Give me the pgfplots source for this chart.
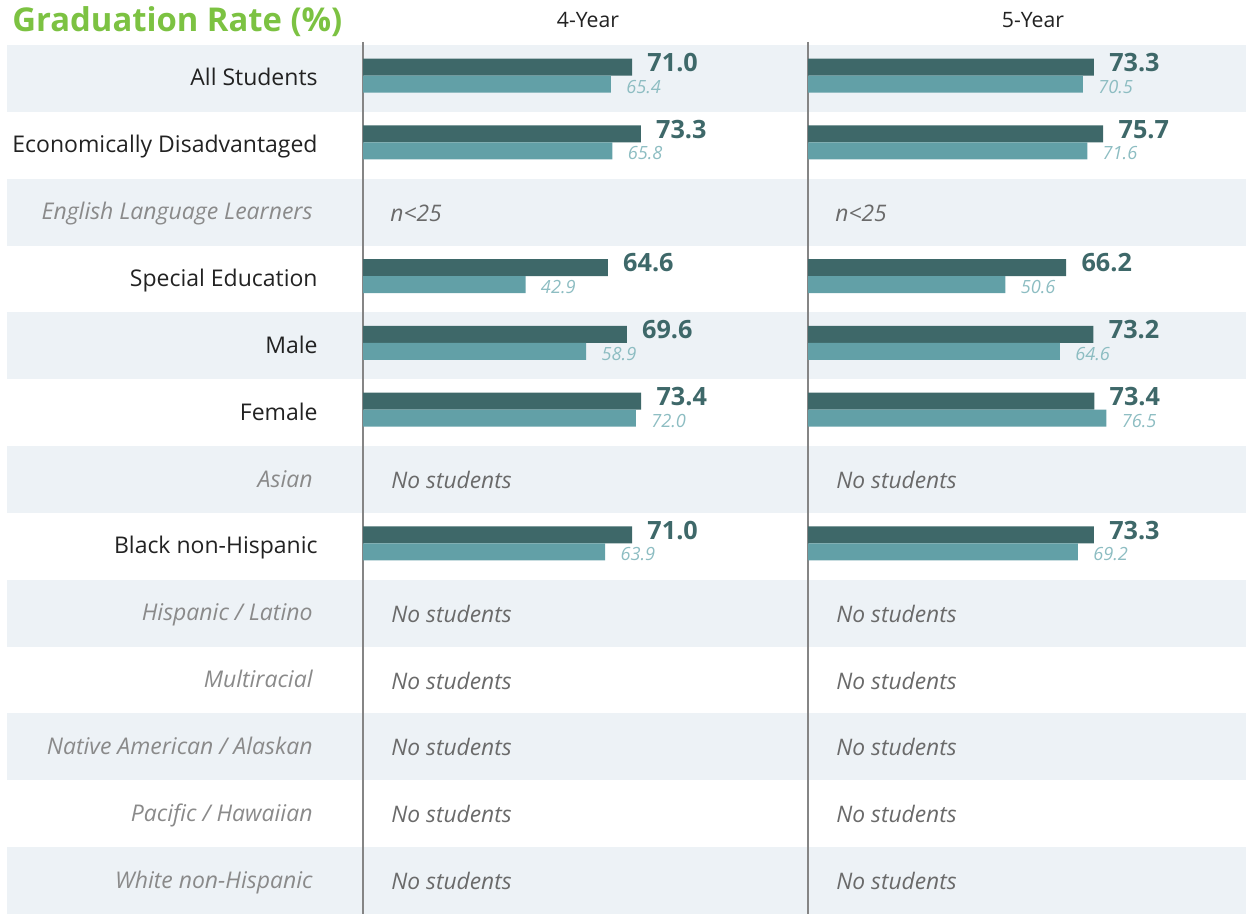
\documentclass[border=0pt]{standalone}
\usepackage{pgfplots}
\pgfplotsset{compat=1.18}
\usepackage{fontspec}
\setmainfont{Open Sans}
\definecolor{darkbar}{HTML}{3E6869}
\definecolor{lightbar}{HTML}{62A0A7}
\definecolor{lightlabel}{HTML}{8DBDC2}
\definecolor{stripe}{HTML}{EDF2F6}
\definecolor{grayital}{HTML}{8A8A8A}
\definecolor{nostud}{HTML}{6A6A6A}
\definecolor{titlegreen}{HTML}{7CC242}
\definecolor{txt}{HTML}{222222}
\definecolor{vline}{HTML}{858585}
\newcommand{\rowfont}{\fontsize{11.5}{14}\selectfont}
\newcommand{\nsfont}{\fontsize{11.4}{14}\selectfont\itshape}
\pgfplotsset{
  panel/.style={scale only axis, anchor=south west, height=434.5pt,
    xmin=0, xmax=100, ymin=0.5, ymax=13.5, hide axis, clip=false},
  darkbars/.style={xbar, bar width=8.5pt, bar shift=5.7pt, fill=darkbar, draw=none,
    nodes near coords, point meta=explicit symbolic,
    nodes near coords style={anchor=base west, inner sep=0pt, xshift=7.5pt, yshift=3.6pt,
      font=\fontsize{12.6}{14}\selectfont\bfseries, text=darkbar}},
  lightbars/.style={xbar, bar width=8.5pt, bar shift=-2.8pt, fill=lightbar, draw=none,
    nodes near coords, point meta=explicit symbolic,
    nodes near coords style={anchor=base west, inner sep=0pt, xshift=7.5pt, yshift=-7.3pt,
      font=\fontsize{9.1}{11}\selectfont\itshape, text=lightlabel}},
}
\begin{document}
\begin{tikzpicture}
\path (0pt,0pt) rectangle (623pt,457pt);
\begin{axis}[at={(0pt,0pt)}, anchor=south west, scale only axis, width=623pt, height=457pt,
  xmin=0, xmax=1246, ymin=0, ymax=914, y dir=reverse, hide axis, clip=false]
% stripes
\fill[stripe] (axis cs:7,45) rectangle (axis cs:1246,111.85);
\fill[stripe] (axis cs:7,178.69) rectangle (axis cs:1246,245.54);
\fill[stripe] (axis cs:7,312.38) rectangle (axis cs:1246,379.23);
\fill[stripe] (axis cs:7,446.08) rectangle (axis cs:1246,512.92);
\fill[stripe] (axis cs:7,579.77) rectangle (axis cs:1246,646.62);
\fill[stripe] (axis cs:7,713.46) rectangle (axis cs:1246,780.31);
\fill[stripe] (axis cs:7,847.15) rectangle (axis cs:1246,914);
% vertical lines
\draw[vline, line width=1pt] (axis cs:363,42) -- (axis cs:363,914);
\draw[vline, line width=1pt] (axis cs:808,42) -- (axis cs:808,914);
% title and headers
\node[anchor=base west, inner sep=0pt, text=titlegreen, font=\fontsize{16.4}{18}\selectfont\bfseries] at (axis cs:12,32) {Graduation Rate (\%)};
\node[anchor=base, inner sep=0pt, text=txt, font=\fontsize{10.6}{13}\selectfont] at (axis cs:588,28) {4-Year};
\node[anchor=base, inner sep=0pt, text=txt, font=\fontsize{10.6}{13}\selectfont] at (axis cs:1033,28) {5-Year};
% row labels
\node[anchor=base east, inner sep=0pt, text=txt, font=\rowfont] at (axis cs:318,86.0) {All Students};
\node[anchor=base east, inner sep=0pt, text=txt, font=\rowfont] at (axis cs:318,152.9) {Economically Disadvantaged};
\node[anchor=base east, inner sep=0pt, text=grayital, font=\rowfont\itshape] at (axis cs:313,219.7) {English Language Learners};
\node[anchor=base east, inner sep=0pt, text=txt, font=\rowfont] at (axis cs:318,286.6) {Special Education};
\node[anchor=base east, inner sep=0pt, text=txt, font=\rowfont] at (axis cs:318,353.4) {Male};
\node[anchor=base east, inner sep=0pt, text=txt, font=\rowfont] at (axis cs:318,420.3) {Female};
\node[anchor=base east, inner sep=0pt, text=grayital, font=\rowfont\itshape] at (axis cs:313,487.1) {Asian};
\node[anchor=base east, inner sep=0pt, text=txt, font=\rowfont] at (axis cs:318,553.9) {Black non-Hispanic};
\node[anchor=base east, inner sep=0pt, text=grayital, font=\rowfont\itshape] at (axis cs:313,620.8) {Hispanic / Latino};
\node[anchor=base east, inner sep=0pt, text=grayital, font=\rowfont\itshape] at (axis cs:313,687.6) {Multiracial};
\node[anchor=base east, inner sep=0pt, text=grayital, font=\rowfont\itshape] at (axis cs:313,754.5) {Native American / Alaskan};
\node[anchor=base east, inner sep=0pt, text=grayital, font=\rowfont\itshape] at (axis cs:313,821.3) {Pacific / Hawaiian};
\node[anchor=base east, inner sep=0pt, text=grayital, font=\rowfont\itshape] at (axis cs:313,888.2) {White non-Hispanic};
% no-data notes
\node[anchor=base west, inner sep=0pt, text=nostud, font=\nsfont] at (axis cs:390,221.1) {n<25};
\node[anchor=base west, inner sep=0pt, text=nostud, font=\nsfont] at (axis cs:835,221.1) {n<25};
\node[anchor=base west, inner sep=0pt, text=nostud, font=\nsfont] at (axis cs:391,488.5) {No students};
\node[anchor=base west, inner sep=0pt, text=nostud, font=\nsfont] at (axis cs:836,488.5) {No students};
\node[anchor=base west, inner sep=0pt, text=nostud, font=\nsfont] at (axis cs:391,622.2) {No students};
\node[anchor=base west, inner sep=0pt, text=nostud, font=\nsfont] at (axis cs:836,622.2) {No students};
\node[anchor=base west, inner sep=0pt, text=nostud, font=\nsfont] at (axis cs:391,689.0) {No students};
\node[anchor=base west, inner sep=0pt, text=nostud, font=\nsfont] at (axis cs:836,689.0) {No students};
\node[anchor=base west, inner sep=0pt, text=nostud, font=\nsfont] at (axis cs:391,755.9) {No students};
\node[anchor=base west, inner sep=0pt, text=nostud, font=\nsfont] at (axis cs:836,755.9) {No students};
\node[anchor=base west, inner sep=0pt, text=nostud, font=\nsfont] at (axis cs:391,822.7) {No students};
\node[anchor=base west, inner sep=0pt, text=nostud, font=\nsfont] at (axis cs:836,822.7) {No students};
\node[anchor=base west, inner sep=0pt, text=nostud, font=\nsfont] at (axis cs:391,889.6) {No students};
\node[anchor=base west, inner sep=0pt, text=nostud, font=\nsfont] at (axis cs:836,889.6) {No students};
\end{axis}
% 4-Year panel
\begin{axis}[panel, at={(181.5pt,0pt)}, width=189.5pt]
\addplot[darkbars] coordinates {(71.0,13)[71.0] (73.3,12)[73.3] (64.6,10)[64.6] (69.6,9)[69.6] (73.4,8)[73.4] (71.0,6)[71.0]};
\addplot[lightbars] coordinates {(65.4,13)[65.4] (65.8,12)[65.8] (42.9,10)[42.9] (58.9,9)[58.9] (72.0,8)[72.0] (63.9,6)[63.9]};
\end{axis}
% 5-Year panel
\begin{axis}[panel, at={(404pt,0pt)}, width=195pt]
\addplot[darkbars] coordinates {(73.3,13)[73.3] (75.7,12)[75.7] (66.2,10)[66.2] (73.2,9)[73.2] (73.4,8)[73.4] (73.3,6)[73.3]};
\addplot[lightbars] coordinates {(70.5,13)[70.5] (71.6,12)[71.6] (50.6,10)[50.6] (64.6,9)[64.6] (76.5,8)[76.5] (69.2,6)[69.2]};
\end{axis}
\end{tikzpicture}
\end{document}
